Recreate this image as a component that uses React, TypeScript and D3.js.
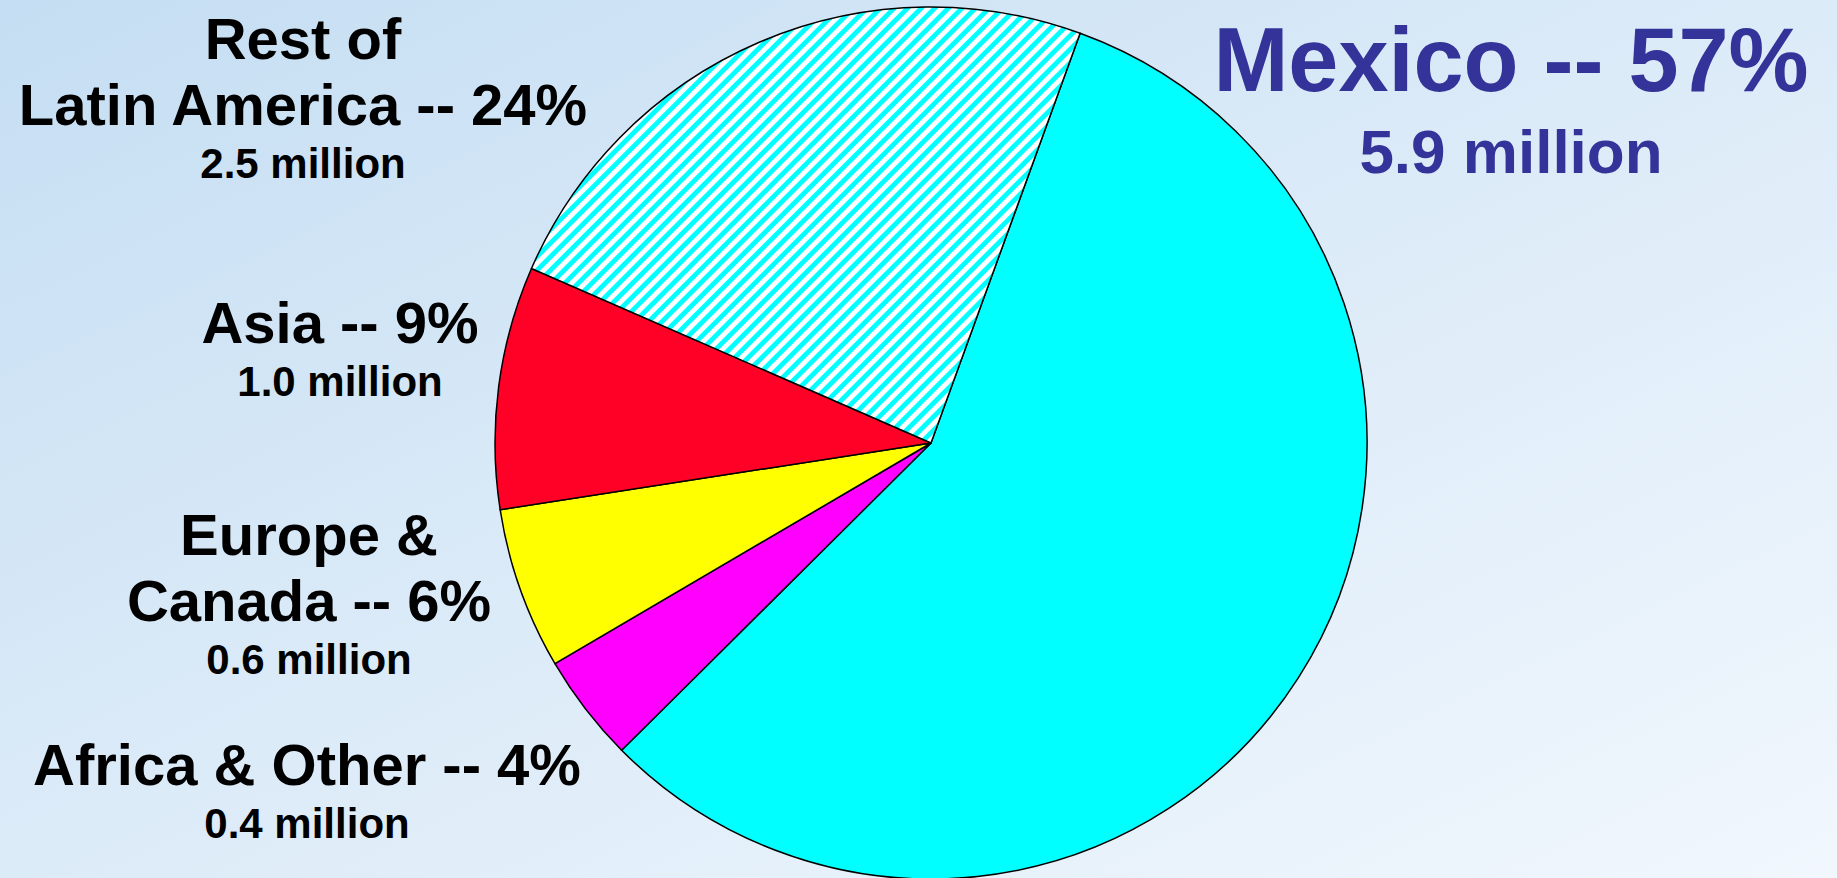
import React from "react";
import * as d3 from "d3";

const regions = ["Mexico", "Africa & Other", "Europe & Canada", "Asia", "Rest of Latin America"];
const percents = [57, 4, 6, 9, 24];
const millions = ["5.9", "0.4", "0.6", "1.0", "2.5"];
const fills = ["#00ffff", "#ff00ff", "#ffff00", "#ff0026", "url(#hatch)"];

// label lines (title lines per region) — text content
const labelTitles: string[][] = [
  ["Mexico -- 57%"],
  ["Africa & Other -- 4%"],
  ["Europe &", "Canada -- 6%"],
  ["Asia -- 9%"],
  ["Rest of", "Latin America -- 24%"],
];
// label anchor (x center, first baseline) in pixels
const labelPos: [number, number][] = [
  [1511, 91],
  [307, 785],
  [309, 555],
  [340, 343],
  [303, 59],
];

const W = 1837;
const H = 878;
const cx = 931;
const cy = 443;
const R = 436;

export default function App() {
  const pie = d3
    .pie<number>()
    .sort(null)
    .value((d) => d)
    .startAngle((20 * Math.PI) / 180)
    .endAngle((20 * Math.PI) / 180 + 2 * Math.PI);
  const arcs = pie(percents);
  const arc = d3.arc<d3.PieArcDatum<number>>().innerRadius(0).outerRadius(R);

  return (
    <svg
      width={W}
      height={H}
      style={{ position: "fixed", left: 0, top: 0, display: "block" }}
      fontFamily="'Liberation Sans', Arial, sans-serif"
      fontWeight="bold"
    >
      <defs>
        <linearGradient id="bg" x1="0" y1="0" x2="1" y2="1">
          <stop offset="0" stopColor="#c5def3" />
          <stop offset="0.5" stopColor="#dcebf8" />
          <stop offset="1" stopColor="#f1f7fd" />
        </linearGradient>
        <pattern
          id="hatch"
          patternUnits="userSpaceOnUse"
          width={9.6}
          height={9.6}
          patternTransform="rotate(45)"
        >
          <rect x={0} y={0} width={9.6} height={9.6} fill="#ffffff" />
          <rect x={0} y={0} width={4.8} height={9.6} fill="#00ffff" />
        </pattern>
      </defs>
      <rect x={0} y={0} width={W} height={H} fill="url(#bg)" />
      <g transform={`translate(${cx},${cy})`}>
        {arcs.map((a, i) => (
          <path key={i} d={arc(a) || ""} fill={fills[i]} stroke="#000" strokeWidth={1.5} strokeLinejoin="round" />
        ))}
      </g>
      {regions.map((r, i) => {
        const isMain = i === 0;
        const big = isMain ? 90 : 58;
        const small = isMain ? 62 : 42;
        const lineGap = isMain ? 0 : 66;
        const subGap = isMain ? 82 : 53;
        const [x, y] = labelPos[i];
        const color = isMain ? "#333399" : "#000000";
        const titles = labelTitles[i];
        const lastY = y + (titles.length - 1) * lineGap;
        return (
          <g key={r} fill={color} textAnchor="middle">
            {titles.map((t, j) => (
              <text key={j} x={x} y={y + j * lineGap} fontSize={big}>
                {t}
              </text>
            ))}
            <text x={x} y={lastY + subGap} fontSize={small}>
              {millions[i]} million
            </text>
          </g>
        );
      })}
    </svg>
  );
}
